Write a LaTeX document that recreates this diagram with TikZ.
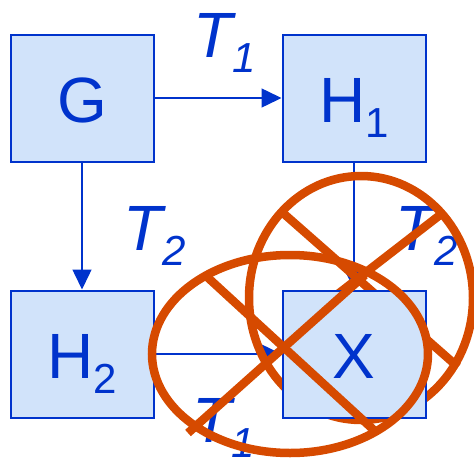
\documentclass[tikz,border=0pt]{standalone}
\usepackage{fontspec}
\setmainfont{Liberation Sans}
\usetikzlibrary{arrows.meta}
\definecolor{dblue}{RGB}{0,51,204}
\definecolor{boxfill}{RGB}{209,227,250}
\definecolor{strike}{RGB}{214,74,0}
\newcommand{\lowsub}[1]{\raisebox{-15pt}{\fontsize{42}{44}\selectfont #1}}
\pgfdeclarelayer{back}
\pgfsetlayers{back,main}

\begin{document}
\begin{tikzpicture}[x=1pt,y=-1pt,every node/.style={font=\fontsize{64}{70}\selectfont,text=dblue},
  blk/.style={draw=dblue,line width=2pt,fill=boxfill,minimum width=143pt,minimum height=127pt,
    inner sep=0pt,text height=48pt,text depth=0pt},
  tlbl/.style={anchor=base,inner sep=0pt,font=\fontsize{64}{70}\selectfont\itshape},
  conn/.style={draw=dblue,line width=1.5pt,-{Triangle[length=20pt,width=19pt]}},
  nope/.style={draw=strike,line width=8.5pt}]
  \useasboundingbox (0,0) rectangle (474,458);
  \node[blk] (g) at (82,98) {G};
  \node[blk] (h1) at (354,98) {H\lowsub{1}};
  \node[blk] (h2) at (82,354) {H\lowsub{2}};
  \node[blk] (x) at (354,354) {X};
  \begin{pgfonlayer}{back}
    \node[tlbl] (t1a) at (225,57) {T\lowsub{1}};
    \node[tlbl] (t2a) at (155,250) {T\lowsub{2}};
    \node[tlbl] (t2b) at (427,250) {T\lowsub{2}};
    \node[tlbl] (t1b) at (224,442) {T\lowsub{1}};
    \draw[conn] (g)--(h1); \draw[conn] (g)--(h2);
    \draw[conn] (h1)--(x); \draw[conn] (h2)--(x);
    % crossed out T2 path
    \draw[nope] (361,298) ellipse [x radius=112pt,y radius=122pt];
    \draw[nope] (283,213)--(458,367); \draw[nope] (440,215)--(290,331);
  \end{pgfonlayer}
  % crossed out T1 path
  \draw[nope] (290,354) ellipse [x radius=138pt,y radius=99pt];
  \draw[nope] (205,275)--(377,433); \draw[nope] (188,433)--(365,275);
\end{tikzpicture}
\end{document}
